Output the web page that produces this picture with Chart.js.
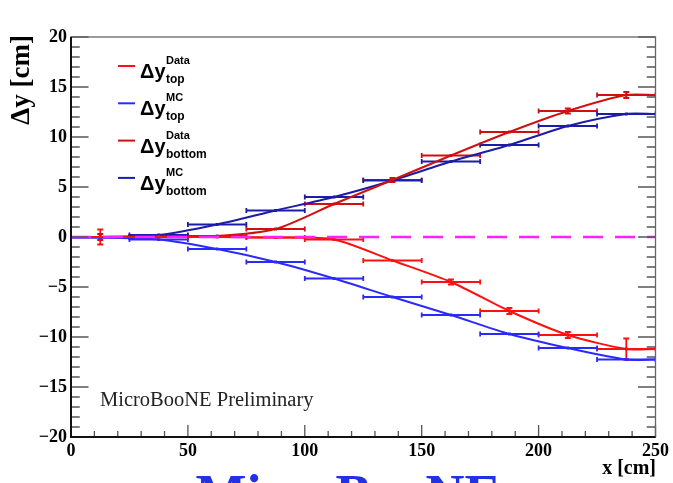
<!DOCTYPE html>
<html>
<head>
<meta charset="utf-8">
<script src="https://cdn.jsdelivr.net/npm/chart.js@4.4.0/dist/chart.umd.min.js"></script>
<style>
html, body { margin: 0; padding: 0; background: #fff; }
#wrap { width: 673px; height: 483px; position: relative; }
</style>
</head>
<body>
<div id="wrap"><canvas id="dy"></canvas></div>
<script>
// bins of 25 cm along x
const binCenters = [12.5, 37.5, 62.5, 87.5, 112.5, 137.5, 162.5, 187.5, 212.5, 237.5];
const binHalf = 12.5;

const dataTop    = [0.0, 0.0, 0.0, -0.05, -0.25, -2.35, -4.5, -7.4, -9.8, -11.2];
const mcTop      = [-0.05, -0.25, -1.2, -2.5, -4.15, -6.0, -7.8, -9.7, -11.1, -12.25];
const dataBottom = [0.0, 0.05, 0.1, 0.8, 3.3, 5.7, 8.15, 10.5, 12.6, 14.2];
const mcBottom   = [0.0, 0.2, 1.25, 2.65, 4.0, 5.65, 7.55, 9.2, 11.1, 12.3];

const dataTopErr    = [0.75, 0.15, 0.15, 0.2, 0.2, 0.2, 0.25, 0.3, 0.3, 1.05];
const mcTopErr      = [0.1, 0.1, 0.1, 0.1, 0.1, 0.1, 0.1, 0.1, 0.1, 0.15];
const dataBottomErr = [0.3, 0.15, 0.15, 0.2, 0.2, 0.2, 0.2, 0.2, 0.25, 0.3];
const mcBottomErr   = [0.1, 0.1, 0.1, 0.1, 0.1, 0.1, 0.1, 0.1, 0.1, 0.15];

const xTicks = [0, 50, 100, 150, 200, 250];
const yTicks = [-20, -15, -10, -5, 0, 5, 10, 15, 20];

const series = [
    { name: 'Data', sub: 'top',    vals: dataTop,    err: dataTopErr,    color: '#ff1010' },
    { name: 'MC',   sub: 'top',    vals: mcTop,      err: mcTopErr,      color: '#2a2aff' },
    { name: 'Data', sub: 'bottom', vals: dataBottom, err: dataBottomErr, color: '#d01010' },
    { name: 'MC',   sub: 'bottom', vals: mcBottom,   err: mcBottomErr,   color: '#1c1ca8' }
];

const serif = "'Liberation Serif', 'Times New Roman', serif";
const sans = "'Liberation Sans', Arial, sans-serif";

// curve through bin centres, flat out to the frame edges
function toLine(vals) {
    const pts = binCenters.map((x, i) => ({ x: x, y: vals[i] }));
    pts.unshift({ x: xTicks[0], y: vals[0], edge: true });
    pts.push({ x: xTicks[xTicks.length - 1], y: vals[vals.length - 1], edge: true });
    return pts;
}

const errorBars = {
    id: 'errorBars',
    beforeDatasetsDraw(chart) {
        const ctx = chart.ctx, xs = chart.scales.x, ys = chart.scales.y;
        const a = chart.chartArea;
        ctx.save();
        ctx.beginPath();
        ctx.rect(a.left, a.top, a.right - a.left, a.bottom - a.top);
        ctx.clip();
        series.forEach(s => {
            ctx.strokeStyle = s.color;
            ctx.lineWidth = 1.8;
            binCenters.forEach((c, i) => {
                const x0 = xs.getPixelForValue(c - binHalf);
                const x1 = xs.getPixelForValue(c + binHalf);
                const xc = xs.getPixelForValue(c);
                const y = ys.getPixelForValue(s.vals[i]);
                const yl = ys.getPixelForValue(s.vals[i] - s.err[i]);
                const yh = ys.getPixelForValue(s.vals[i] + s.err[i]);
                ctx.beginPath();
                ctx.moveTo(x0, y); ctx.lineTo(x1, y);
                ctx.moveTo(x0, y - 2.5); ctx.lineTo(x0, y + 2.5);
                ctx.moveTo(x1, y - 2.5); ctx.lineTo(x1, y + 2.5);
                if (yl - yh > 4) {
                    ctx.moveTo(xc, yh); ctx.lineTo(xc, yl);
                    ctx.moveTo(xc - 3, yh); ctx.lineTo(xc + 3, yh);
                    ctx.moveTo(xc - 3, yl); ctx.lineTo(xc + 3, yl);
                }
                ctx.stroke();
            });
        });
        ctx.restore();
    }
};

const frameAndText = {
    id: 'frameAndText',
    afterDraw(chart) {
        const ctx = chart.ctx, xs = chart.scales.x, ys = chart.scales.y;
        const a = chart.chartArea;
        const w = a.right - a.left, h = a.bottom - a.top;
        ctx.save();

        // ROOT style ticks, inside the frame
        ctx.strokeStyle = '#555';
        ctx.lineWidth = 1.3;
        ctx.beginPath();
        for (let v = -20; v <= 20; v += 1) {
            const y = ys.getPixelForValue(v);
            const len = (v % 5 === 0) ? 0.03 * w : 0.015 * w;
            ctx.moveTo(a.left, y); ctx.lineTo(a.left + len, y);
            ctx.moveTo(a.right, y); ctx.lineTo(a.right - len, y);
        }
        for (let v = 0; v <= 250; v += 10) {
            const x = xs.getPixelForValue(v);
            const len = (v % 50 === 0) ? 0.03 * h : 0.015 * h;
            ctx.moveTo(x, a.bottom); ctx.lineTo(x, a.bottom - len);
        }
        ctx.stroke();

        // frame
        ctx.strokeStyle = '#666';
        ctx.lineWidth = 1.3;
        ctx.strokeRect(a.left, a.top, w, h);
        ctx.strokeStyle = '#111';
        ctx.lineWidth = 2;
        ctx.beginPath();
        ctx.moveTo(a.left, a.top); ctx.lineTo(a.left, a.bottom); ctx.lineTo(a.right, a.bottom);
        ctx.stroke();

        // axis titles
        ctx.fillStyle = '#000';
        ctx.font = 'bold 27px ' + serif;
        ctx.save();
        ctx.translate(29, a.top - 2);
        ctx.rotate(-Math.PI / 2);
        ctx.textAlign = 'right';
        ctx.textBaseline = 'alphabetic';
        ctx.fillText('\u0394y [cm]', 0, 0);
        ctx.restore();

        ctx.font = 'bold 20px ' + serif;
        ctx.textAlign = 'right';
        ctx.fillText('x [cm]', 656, 474);

        // label inside the plot
        ctx.font = '20.5px ' + serif;
        ctx.fillStyle = '#222';
        ctx.textAlign = 'left';
        ctx.fillText('MicroBooNE Preliminary', 100, 406);

        // legend
        series.forEach((s, i) => {
            const ly = 66 + i * 37.3;
            ctx.strokeStyle = s.color;
            ctx.lineWidth = 2;
            ctx.beginPath();
            ctx.moveTo(118, ly); ctx.lineTo(135, ly);
            ctx.stroke();
            ctx.fillStyle = '#000';
            ctx.textAlign = 'left';
            ctx.font = 'bold 20px ' + sans;
            ctx.fillText('\u0394y', 140, ly + 12);
            ctx.font = 'bold 11px ' + sans;
            ctx.fillText(s.name, 166, ly - 2);
            ctx.font = 'bold 12px ' + sans;
            ctx.fillText(s.sub, 166, ly + 17);
        });

        // big logo text cut off at the bottom edge
        ctx.fillStyle = '#2230e6';
        ctx.font = 'bold 54px ' + serif;
        ctx.textAlign = 'center';
        ctx.fillText('MicroBooNE', 348, 512);

        ctx.restore();
    }
};

document.addEventListener('DOMContentLoaded', init);
let canvasone, chartone;

function init() {
    canvasone = document.getElementById('dy');
    chartone = canvasone.getContext('2d');
    createChart();
}

function createChart() {
    const lineSets = series.map(s => ({
        label: s.name + ' ' + s.sub,
        data: toLine(s.vals),
        borderColor: s.color,
        backgroundColor: s.color,
        borderWidth: 2,
        tension: 0.25,
        pointStyle: 'rect',
        pointRadius: c => (c.raw && c.raw.edge) ? 0 : 2,
        pointBorderWidth: 0,
        order: 1
    }));
    lineSets.push({
        label: 'zero',
        data: [{ x: xTicks[0], y: 0 }, { x: xTicks[xTicks.length - 1], y: 0 }],
        borderColor: '#ff22ff',
        borderWidth: 2.5,
        borderDash: [20, 12],
        pointRadius: 0,
        order: 0
    });

    new Chart(chartone, {
        type: 'line',
        data: { datasets: lineSets },
        options: {
            responsive: true,
            maintainAspectRatio: false,
            animation: false,
            devicePixelRatio: 1,
            layout: { padding: { left: 0, top: 37, right: 15, bottom: 0 } },
            plugins: {
                legend: { display: false },
                tooltip: { enabled: false },
                title: { display: false }
            },
            scales: {
                x: {
                    type: 'linear',
                    min: xTicks[0],
                    max: xTicks[xTicks.length - 1],
                    afterFit: s => { s.height = 46; },
                    afterBuildTicks: s => { s.ticks = xTicks.map(v => ({ value: v })); },
                    grid: { display: false, drawTicks: false },
                    border: { display: false },
                    ticks: {
                        padding: 4,
                        maxRotation: 0,
                        color: '#000',
                        font: { family: serif, size: 18, weight: 'bold' }
                    }
                },
                y: {
                    min: yTicks[0],
                    max: yTicks[yTicks.length - 1],
                    afterFit: s => { s.width = 71; },
                    afterBuildTicks: s => { s.ticks = yTicks.map(v => ({ value: v })); },
                    grid: { display: false, drawTicks: false },
                    border: { display: false },
                    ticks: {
                        padding: 4,
                        color: '#000',
                        font: { family: serif, size: 18, weight: 'bold' },
                        callback: v => v < 0 ? '\u2212' + Math.abs(v) : String(v)
                    }
                }
            }
        },
        plugins: [errorBars, frameAndText]
    });
}
</script>
</body>
</html>
